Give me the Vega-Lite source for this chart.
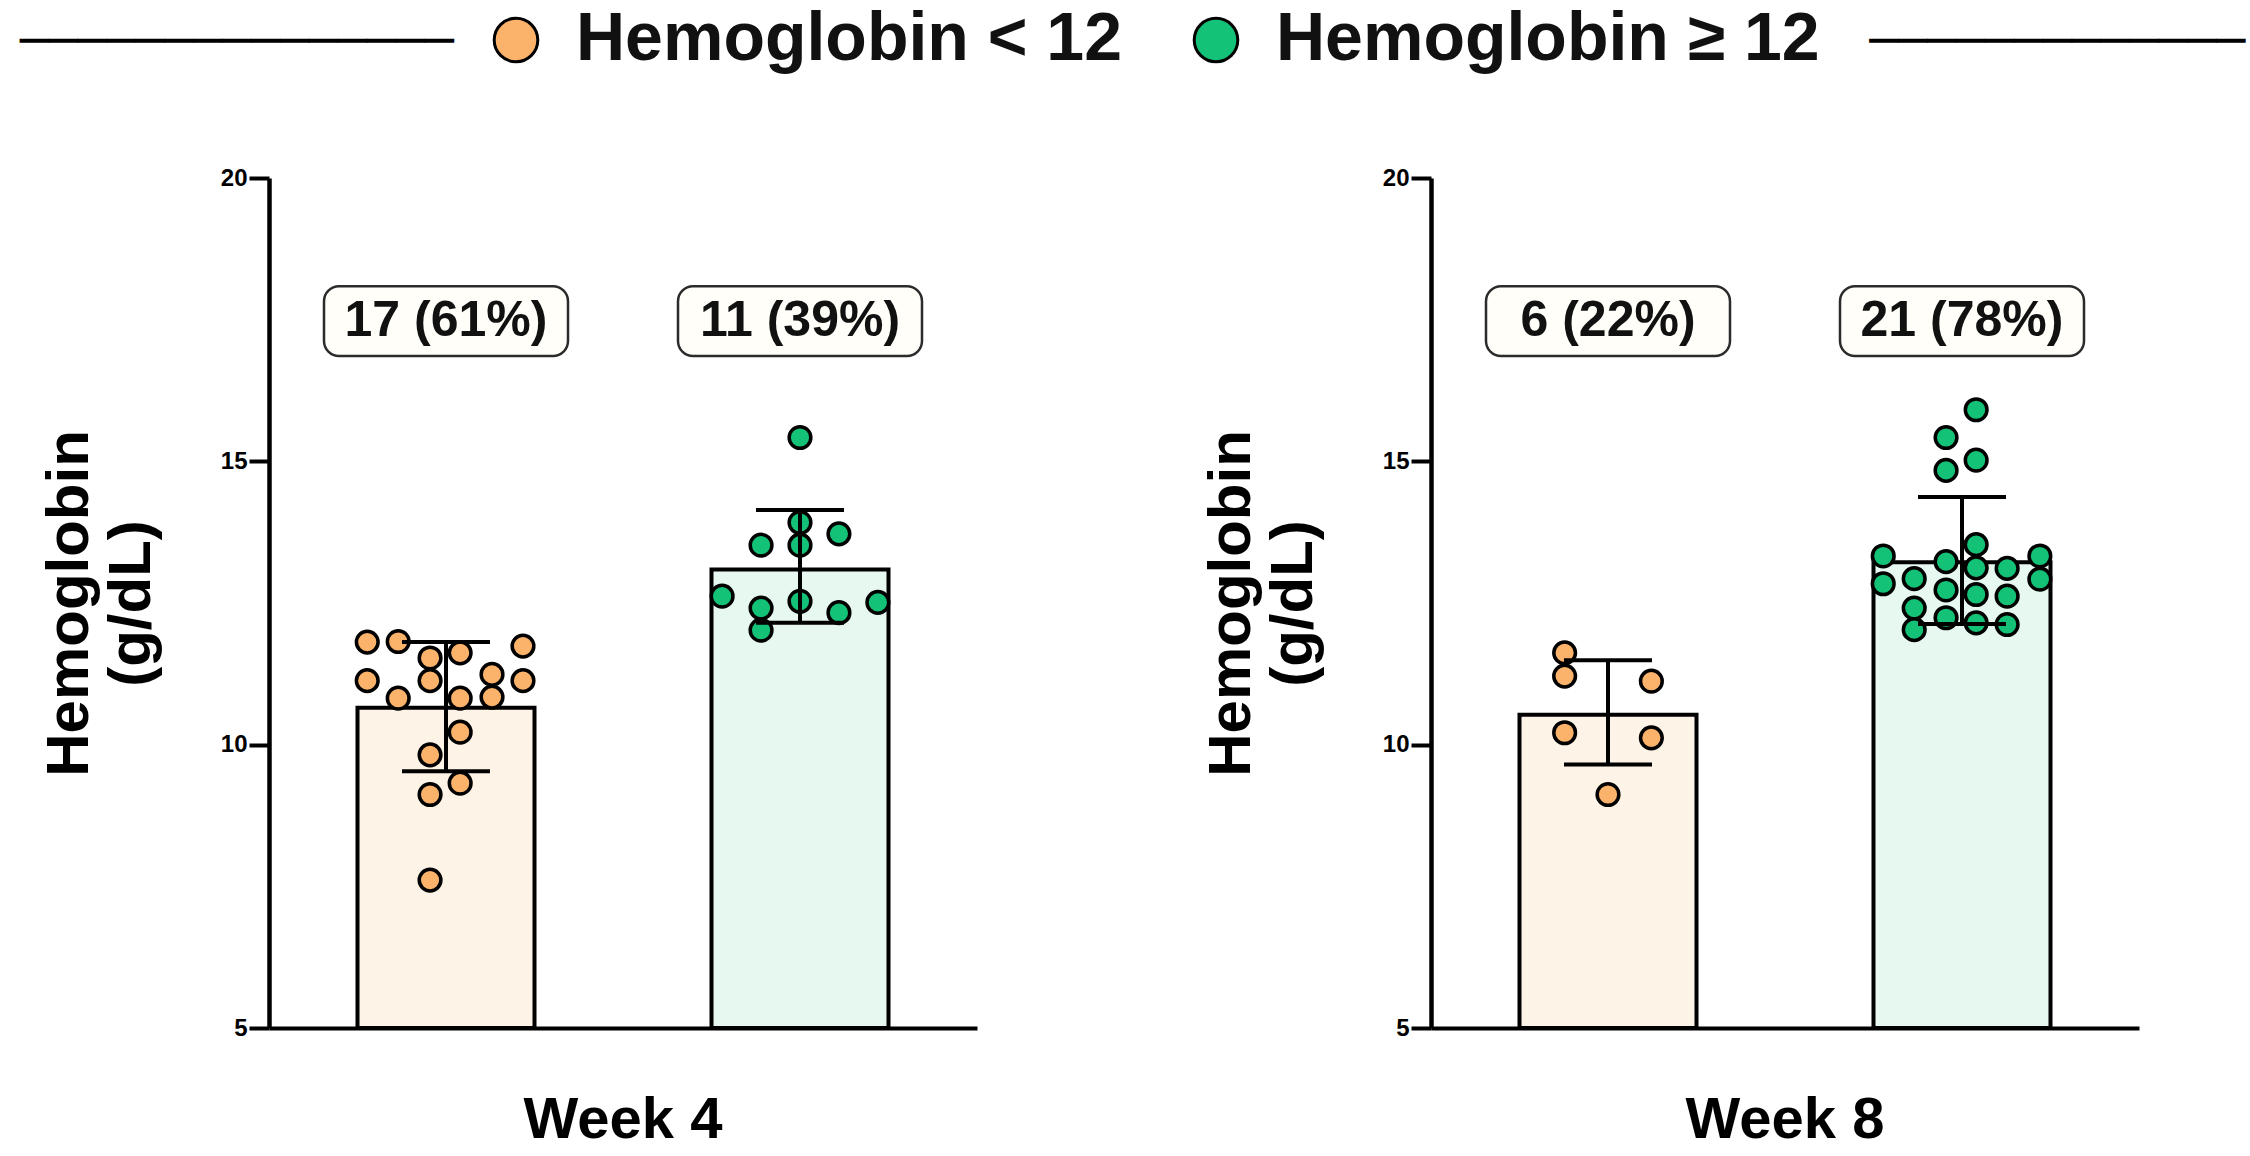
{
  "$schema": "https://vega.github.io/schema/vega-lite/v6.json",
  "background": "white",
  "padding": {"left": 20, "top": 6, "right": 0, "bottom": 0},
  "title": {
    "text": "───────────────\u00a0\u00a0\u00a0\u00a0\u00a0\u00a0\u00a0\u00a0\u00a0\u00a0\u00a0\u00a0\u00a0\u00a0\u00a0\u00a0\u00a0\u00a0\u00a0\u00a0\u00a0\u00a0\u00a0\u00a0\u00a0\u00a0\u00a0\u00a0\u00a0\u00a0\u00a0\u00a0\u00a0\u00a0\u00a0\u00a0\u00a0\u00a0\u00a0\u00a0\u00a0\u00a0\u00a0\u00a0\u00a0\u00a0\u00a0\u00a0\u00a0─────────────",
    "anchor": "start",
    "frame": "bounds",
    "dx": -19,
    "font": "DejaVu Sans Mono",
    "fontSize": 48,
    "fontWeight": "normal",
    "color": "black",
    "offset": -61
  },
  "data": {
    "values": [
      {"kind": "summary", "week": "Week 4", "group": "Hemoglobin < 12", "mean": 10.65, "lo": 9.53, "hi": 11.81, "label": "17 (61%)"},
      {"kind": "summary", "week": "Week 4", "group": "Hemoglobin ≥ 12", "mean": 13.09, "lo": 12.15, "hi": 14.14, "label": "11 (39%)"},
      {"kind": "summary", "week": "Week 8", "group": "Hemoglobin < 12", "mean": 10.53, "lo": 9.65, "hi": 11.49, "label": "6 (22%)"},
      {"kind": "summary", "week": "Week 8", "group": "Hemoglobin ≥ 12", "mean": 13.22, "lo": 12.13, "hi": 14.37, "label": "21 (78%)"},

      {"kind": "point", "week": "Week 4", "group": "Hemoglobin < 12", "hb": 11.81, "jitter": -0.89},
      {"kind": "point", "week": "Week 4", "group": "Hemoglobin < 12", "hb": 11.82, "jitter": -0.54},
      {"kind": "point", "week": "Week 4", "group": "Hemoglobin < 12", "hb": 11.53, "jitter": -0.18},
      {"kind": "point", "week": "Week 4", "group": "Hemoglobin < 12", "hb": 11.62, "jitter": 0.16},
      {"kind": "point", "week": "Week 4", "group": "Hemoglobin < 12", "hb": 11.74, "jitter": 0.87},
      {"kind": "point", "week": "Week 4", "group": "Hemoglobin < 12", "hb": 11.13, "jitter": -0.89},
      {"kind": "point", "week": "Week 4", "group": "Hemoglobin < 12", "hb": 11.13, "jitter": -0.18},
      {"kind": "point", "week": "Week 4", "group": "Hemoglobin < 12", "hb": 11.24, "jitter": 0.52},
      {"kind": "point", "week": "Week 4", "group": "Hemoglobin < 12", "hb": 11.13, "jitter": 0.87},
      {"kind": "point", "week": "Week 4", "group": "Hemoglobin < 12", "hb": 10.82, "jitter": -0.54},
      {"kind": "point", "week": "Week 4", "group": "Hemoglobin < 12", "hb": 10.82, "jitter": 0.16},
      {"kind": "point", "week": "Week 4", "group": "Hemoglobin < 12", "hb": 10.84, "jitter": 0.52},
      {"kind": "point", "week": "Week 4", "group": "Hemoglobin < 12", "hb": 10.22, "jitter": 0.16},
      {"kind": "point", "week": "Week 4", "group": "Hemoglobin < 12", "hb": 9.82, "jitter": -0.18},
      {"kind": "point", "week": "Week 4", "group": "Hemoglobin < 12", "hb": 9.32, "jitter": 0.16},
      {"kind": "point", "week": "Week 4", "group": "Hemoglobin < 12", "hb": 9.12, "jitter": -0.18},
      {"kind": "point", "week": "Week 4", "group": "Hemoglobin < 12", "hb": 7.61, "jitter": -0.18},

      {"kind": "point", "week": "Week 4", "group": "Hemoglobin ≥ 12", "hb": 15.42, "jitter": 0},
      {"kind": "point", "week": "Week 4", "group": "Hemoglobin ≥ 12", "hb": 13.92, "jitter": 0},
      {"kind": "point", "week": "Week 4", "group": "Hemoglobin ≥ 12", "hb": 13.72, "jitter": 0.44},
      {"kind": "point", "week": "Week 4", "group": "Hemoglobin ≥ 12", "hb": 13.52, "jitter": -0.44},
      {"kind": "point", "week": "Week 4", "group": "Hemoglobin ≥ 12", "hb": 13.52, "jitter": 0},
      {"kind": "point", "week": "Week 4", "group": "Hemoglobin ≥ 12", "hb": 12.62, "jitter": -0.88},
      {"kind": "point", "week": "Week 4", "group": "Hemoglobin ≥ 12", "hb": 12.51, "jitter": 0.88},
      {"kind": "point", "week": "Week 4", "group": "Hemoglobin ≥ 12", "hb": 12.53, "jitter": 0},
      {"kind": "point", "week": "Week 4", "group": "Hemoglobin ≥ 12", "hb": 12.41, "jitter": -0.44},
      {"kind": "point", "week": "Week 4", "group": "Hemoglobin ≥ 12", "hb": 12.33, "jitter": 0.44},
      {"kind": "point", "week": "Week 4", "group": "Hemoglobin ≥ 12", "hb": 12.02, "jitter": -0.44},

      {"kind": "point", "week": "Week 8", "group": "Hemoglobin < 12", "hb": 11.62, "jitter": -0.49},
      {"kind": "point", "week": "Week 8", "group": "Hemoglobin < 12", "hb": 11.21, "jitter": -0.49},
      {"kind": "point", "week": "Week 8", "group": "Hemoglobin < 12", "hb": 11.12, "jitter": 0.49},
      {"kind": "point", "week": "Week 8", "group": "Hemoglobin < 12", "hb": 10.21, "jitter": -0.49},
      {"kind": "point", "week": "Week 8", "group": "Hemoglobin < 12", "hb": 10.12, "jitter": 0.49},
      {"kind": "point", "week": "Week 8", "group": "Hemoglobin < 12", "hb": 9.12, "jitter": 0},

      {"kind": "point", "week": "Week 8", "group": "Hemoglobin ≥ 12", "hb": 15.91, "jitter": 0.16},
      {"kind": "point", "week": "Week 8", "group": "Hemoglobin ≥ 12", "hb": 15.42, "jitter": -0.18},
      {"kind": "point", "week": "Week 8", "group": "Hemoglobin ≥ 12", "hb": 15.02, "jitter": 0.16},
      {"kind": "point", "week": "Week 8", "group": "Hemoglobin ≥ 12", "hb": 14.84, "jitter": -0.18},
      {"kind": "point", "week": "Week 8", "group": "Hemoglobin ≥ 12", "hb": 13.53, "jitter": 0.16},
      {"kind": "point", "week": "Week 8", "group": "Hemoglobin ≥ 12", "hb": 13.33, "jitter": -0.89},
      {"kind": "point", "week": "Week 8", "group": "Hemoglobin ≥ 12", "hb": 13.23, "jitter": -0.18},
      {"kind": "point", "week": "Week 8", "group": "Hemoglobin ≥ 12", "hb": 13.33, "jitter": 0.88},
      {"kind": "point", "week": "Week 8", "group": "Hemoglobin ≥ 12", "hb": 13.12, "jitter": 0.16},
      {"kind": "point", "week": "Week 8", "group": "Hemoglobin ≥ 12", "hb": 13.11, "jitter": 0.51},
      {"kind": "point", "week": "Week 8", "group": "Hemoglobin ≥ 12", "hb": 12.93, "jitter": -0.54},
      {"kind": "point", "week": "Week 8", "group": "Hemoglobin ≥ 12", "hb": 12.84, "jitter": -0.89},
      {"kind": "point", "week": "Week 8", "group": "Hemoglobin ≥ 12", "hb": 12.92, "jitter": 0.88},
      {"kind": "point", "week": "Week 8", "group": "Hemoglobin ≥ 12", "hb": 12.73, "jitter": -0.18},
      {"kind": "point", "week": "Week 8", "group": "Hemoglobin ≥ 12", "hb": 12.65, "jitter": 0.16},
      {"kind": "point", "week": "Week 8", "group": "Hemoglobin ≥ 12", "hb": 12.62, "jitter": 0.51},
      {"kind": "point", "week": "Week 8", "group": "Hemoglobin ≥ 12", "hb": 12.41, "jitter": -0.54},
      {"kind": "point", "week": "Week 8", "group": "Hemoglobin ≥ 12", "hb": 12.24, "jitter": -0.18},
      {"kind": "point", "week": "Week 8", "group": "Hemoglobin ≥ 12", "hb": 12.15, "jitter": 0.16},
      {"kind": "point", "week": "Week 8", "group": "Hemoglobin ≥ 12", "hb": 12.12, "jitter": 0.51},
      {"kind": "point", "week": "Week 8", "group": "Hemoglobin ≥ 12", "hb": 12.03, "jitter": -0.54}
    ]
  },
  "facet": {
    "column": {
      "field": "week",
      "type": "nominal",
      "header": {
        "title": null,
        "labelOrient": "bottom",
        "labelFont": "Liberation Sans",
        "labelFontSize": 58,
        "labelFontWeight": "bold",
        "labelColor": "black",
        "labelPadding": 64
      }
    }
  },
  "bounds": "flush",
  "spacing": 454,
  "resolve": {"axis": {"y": "independent"}},
  "spec": {
    "width": 708,
    "height": 850,
    "resolve": {"scale": {"xOffset": "independent"}},
    "encoding": {
      "x": {
        "field": "group",
        "type": "nominal",
        "scale": {"type": "band", "domain": ["Hemoglobin < 12", "Hemoglobin ≥ 12"], "paddingInner": 0.5, "paddingOuter": 0.25},
        "axis": {"labels": false, "ticks": false, "title": null, "domainWidth": 4, "domainColor": "black", "offset": 0}
      }
    },
    "layer": [
      {
        "transform": [{"filter": "datum.kind === 'summary'"}],
        "mark": {"type": "bar", "stroke": "black", "strokeWidth": 4},
        "encoding": {
          "y": {
            "field": "mean",
            "type": "quantitative",
            "scale": {"domain": [5, 20], "nice": false, "zero": false, "padding": 0},
            "axis": {
              "values": [5, 10, 15, 20],
              "format": "d",
              "grid": false,
              "domainColor": "black",
              "domainWidth": 4.5,
              "tickColor": "black",
              "tickWidth": 4,
              "tickSize": 20,
              "labelFont": "Liberation Sans",
              "labelFontSize": 24,
              "labelFontWeight": "bold",
              "labelColor": "black",
              "labelPadding": 2,
              "title": ["Hemoglobin", "(g/dL)"],
              "titleFont": "Liberation Sans",
              "titleFontSize": 60,
              "titleFontWeight": "bold",
              "titleColor": "black",
              "titleLineHeight": 62,
              "titlePadding": 58
            }
          },
          "y2": {"datum": 5},
          "fill": {
            "condition": {"test": "datum.group === 'Hemoglobin < 12'", "value": "#FEF3E7"},
            "value": "#E6F8EF"
          }
        }
      },
      {
        "transform": [{"filter": "datum.kind === 'point'"}],
        "mark": {"type": "point", "filled": true, "shape": "circle", "size": 470, "stroke": "black", "strokeWidth": 3.5, "opacity": 1},
        "encoding": {
          "xOffset": {"field": "jitter", "type": "quantitative", "scale": {"domain": [-1, 1]}},
          "y": {"field": "hb", "type": "quantitative"},
          "fill": {
            "field": "group",
            "type": "nominal",
            "scale": {"domain": ["Hemoglobin < 12", "Hemoglobin ≥ 12"], "range": ["#FBB36B", "#13C276"]},
            "legend": {
              "orient": "none",
              "legendX": 213,
              "legendY": -172,
              "direction": "horizontal",
              "title": null,
              "symbolType": "circle",
              "symbolSize": 1900,
              "symbolStrokeColor": "black",
              "symbolStrokeWidth": 3,
              "symbolOpacity": 1,
              "labelFont": "Liberation Sans",
              "labelFontSize": 68,
              "labelFontWeight": "bold",
              "labelColor": "#111111",
              "labelOffset": 26,
              "labelLimit": 0,
              "columnPadding": 60
            }
          }
        }
      },
      {
        "transform": [{"filter": "datum.kind === 'summary'"}],
        "mark": {"type": "rule", "color": "black", "strokeWidth": 4},
        "encoding": {
          "y": {"field": "lo", "type": "quantitative"},
          "y2": {"field": "hi"}
        }
      },
      {
        "transform": [{"filter": "datum.kind === 'summary'"}],
        "mark": {"type": "tick", "color": "black", "thickness": 4, "opacity": 1},
        "encoding": {
          "y": {"field": "lo", "type": "quantitative"},
          "size": {"value": 88}
        }
      },
      {
        "transform": [{"filter": "datum.kind === 'summary'"}],
        "mark": {"type": "tick", "color": "black", "thickness": 4, "opacity": 1},
        "encoding": {
          "y": {"field": "hi", "type": "quantitative"},
          "size": {"value": 88}
        }
      },
      {
        "transform": [{"filter": "datum.kind === 'summary'"}],
        "mark": {"type": "bar", "width": 244, "cornerRadius": 15, "fill": "#FFFEF8", "stroke": "#2b2b2b", "strokeWidth": 2.5},
        "encoding": {
          "y": {"datum": 16.86},
          "y2": {"datum": 18.09}
        }
      },
      {
        "transform": [{"filter": "datum.kind === 'summary'"}],
        "mark": {"type": "text", "font": "Liberation Sans", "fontSize": 50, "fontWeight": "bold", "color": "#111111", "baseline": "middle"},
        "encoding": {
          "y": {"datum": 17.47},
          "text": {"field": "label"}
        }
      }
    ]
  },
  "config": {
    "view": {"stroke": null}
  }
}
